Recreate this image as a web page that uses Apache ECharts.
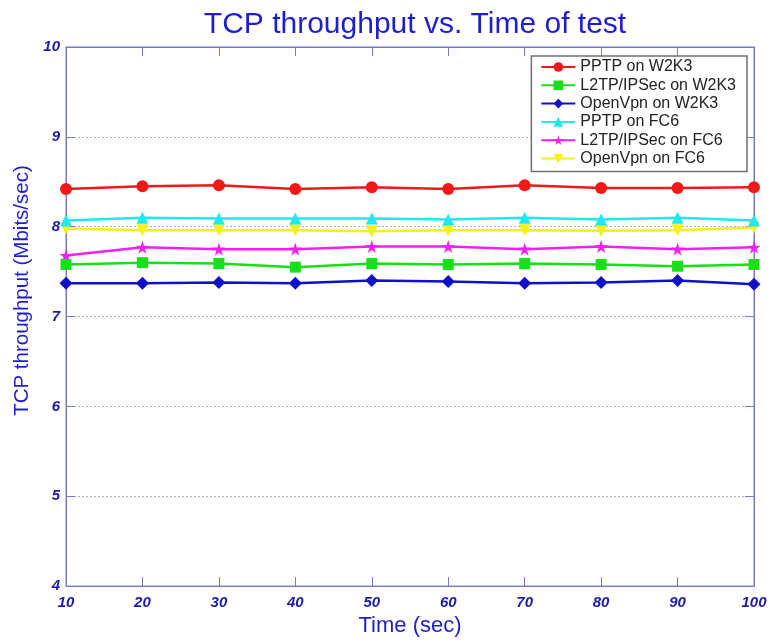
<!DOCTYPE html>
<html><head><meta charset="utf-8">
<script src="https://cdn.jsdelivr.net/npm/echarts@6/dist/echarts.min.js"></script>
<style>html,body{margin:0;padding:0;background:#fff}#c{width:771px;height:642px}</style>
</head><body><div id="c"></div>
<script>
var times = [10,20,30,40,50,60,70,80,90,100];
var seriesNames = ['PPTP on W2K3','L2TP/IPSec on W2K3','OpenVpn on W2K3','PPTP on FC6','L2TP/IPSec on FC6','OpenVpn on FC6'];
var pptpW2K3   = [8.42,8.45,8.46,8.42,8.44,8.42,8.46,8.43,8.43,8.44];
var l2tpW2K3   = [7.58,7.60,7.59,7.55,7.59,7.58,7.59,7.58,7.56,7.58];
var openvpnW2K3= [7.37,7.37,7.38,7.37,7.40,7.39,7.37,7.38,7.40,7.36];
var pptpFC6    = [8.07,8.10,8.09,8.09,8.09,8.08,8.10,8.08,8.10,8.07];
var l2tpFC6    = [7.68,7.77,7.75,7.75,7.78,7.78,7.75,7.78,7.75,7.77];
var openvpnFC6 = [7.98,7.96,7.96,7.96,7.95,7.96,7.96,7.955,7.96,7.99];
var yTicks = [4,5,6,7,8,9,10];

var colors = ['#f01818','#18e018','#1010c8','#20e8f0','#f020f0','#f4f018'];
var symbols = ['circle','rect','diamond','triangle',
  'path://M50,0 L61.8,36.2 L100,36.2 L69.1,58.8 L80.9,95.1 L50,72.7 L19.1,95.1 L30.9,58.8 L0,36.2 L38.2,36.2 Z',
  'path://M0,0 L100,0 L50,90 Z'];
var sizes = [12,11,13,12,13,12];
var datas = [pptpW2K3,l2tpW2K3,openvpnW2K3,pptpFC6,l2tpFC6,openvpnFC6];

var axisColor = '#7878c4';
var labelColor = '#1c1ca8';
var nameColor = '#1e1ed0';
var font = 'Liberation Sans, Arial, sans-serif';

var series = seriesNames.map(function(n,i){
  return {
    name:n, type:'line', xAxisIndex:0, yAxisIndex:0,
    data: datas[i].map(function(v,j){return [times[j],v];}),
    symbol: symbols[i], symbolSize: sizes[i], showSymbol:true,
    lineStyle:{color:colors[i],width:2.5},
    itemStyle:{color:colors[i]},
    z: 10 - i,
    animation:false
  };
});

var chart = echarts.init(document.getElementById('c'));
chart.setOption({
  backgroundColor:'#fff',
  animation:false,
  title:{text:'TCP throughput vs. Time of test', left:410, textAlign:'center', top:5,
    textStyle:{color:nameColor, fontFamily:font, fontSize:30, fontWeight:'normal'}},
  grid:{left:66, right:17, top:47, bottom:52, show:true, borderColor:axisColor, borderWidth:1},
  legend:{
    orient:'vertical', right:24, top:56, itemGap:2.3, itemWidth:34, itemHeight:12,
    padding:[3,11,5,9],
    backgroundColor:'#fff', borderColor:'#707070', borderWidth:1.5,
    textStyle:{color:'#222', fontFamily:font, fontSize:16},
    data: seriesNames
  },
  xAxis:[{
    type:'value', min:10, max:100, interval:10,
    name:'Time (sec)', nameLocation:'middle', nameGap:25,
    nameTextStyle:{color:nameColor, fontFamily:font, fontSize:22},
    axisLine:{show:true,lineStyle:{color:axisColor}},
    axisTick:{show:true,inside:true,length:9,lineStyle:{color:axisColor}},
    axisLabel:{color:labelColor, fontFamily:font, fontSize:15, fontStyle:'italic', fontWeight:'bold', margin:9},
    splitLine:{show:false}
  },{
    type:'value', position:'top', min:10, max:100, interval:10,
    axisLine:{show:true,lineStyle:{color:axisColor}},
    axisTick:{show:true,inside:true,length:9,lineStyle:{color:axisColor}},
    axisLabel:{show:false}, splitLine:{show:false}
  }],
  yAxis:[{
    type:'value', min:4, max:10, interval:1,
    name:'TCP throughput (Mbits/sec)', nameLocation:'middle', nameGap:31,
    nameTextStyle:{color:nameColor, fontFamily:font, fontSize:20.5, padding:[0,0,0,52]},
    axisLine:{show:true,lineStyle:{color:axisColor}},
    axisTick:{show:true,inside:true,length:9,lineStyle:{color:axisColor}},
    axisLabel:{color:labelColor, fontFamily:font, fontSize:15, fontStyle:'italic', fontWeight:'bold', margin:6,
      formatter:function(v){return yTicks.indexOf(v)>=0?String(v):'';}},
    splitLine:{show:true,lineStyle:{color:'#b0b0b0',type:[2,2],width:1}}
  },{
    type:'value', position:'right', min:4, max:10, interval:1,
    axisLine:{show:true,lineStyle:{color:axisColor}},
    axisTick:{show:true,inside:true,length:9,lineStyle:{color:axisColor}},
    axisLabel:{show:false}, splitLine:{show:false}
  }],
  series: series
});
</script></body></html>
